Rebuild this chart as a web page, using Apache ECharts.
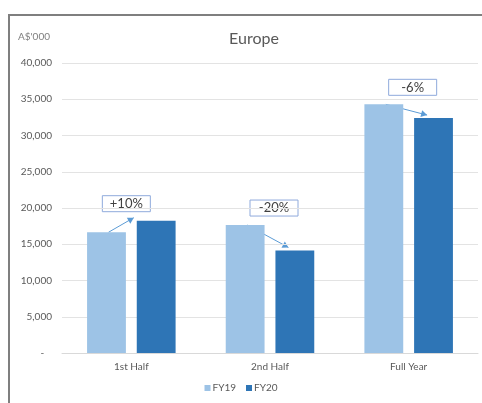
<!DOCTYPE html>
<html>
<head>
<meta charset="utf-8">
<script src="https://cdn.jsdelivr.net/npm/echarts@6/dist/echarts.min.js"></script>
<style>
  html, body { margin: 0; padding: 0; background: #fff; }
  #chart { width: 482px; height: 403px; }
</style>
</head>
<body>
<div id="chart"></div>
<script>
const categories = ['1st Half', '2nd Half', 'Full Year']
const fy19 = [16650, 17650, 34300]
const fy20 = [18250, 14150, 32400]
const changes = ['+10%', '-20%', '-6%']
const yTicks = [0, 5000, 10000, 15000, 20000, 25000, 30000, 35000, 40000]

const FONT = 'Lato, "Liberation Sans", sans-serif'
const chart = echarts.init(document.getElementById('chart'))

const option = {
  animation: false,
  textStyle: { fontFamily: FONT },
  color: ['#9dc3e6', '#2e75b6'],
  title: {
    text: 'Europe',
    left: 249,
    top: 26,
    textAlign: 'center',
    textStyle: { fontSize: 16, fontWeight: 'normal', color: '#595959', fontFamily: FONT }
  },
  legend: {
    bottom: 5,
    left: 'center',
    itemWidth: 6,
    itemHeight: 6,
    itemGap: 10,
    icon: 'rect',
    textStyle: { fontSize: 10, color: '#595959', padding: [0, 0, 0, -3] },
    data: ['FY19', 'FY20']
  },
  grid: { left: 62, right: 4, top: 63, bottom: 50 },
  xAxis: {
    type: 'category',
    data: categories,
    axisLine: { lineStyle: { color: '#d9d9d9' } },
    axisTick: { show: false },
    axisLabel: { fontSize: 10, color: '#595959', margin: 9 }
  },
  yAxis: {
    type: 'value',
    min: yTicks[0],
    max: yTicks[yTicks.length - 1],
    interval: 5000,
    axisLine: { show: false },
    axisTick: { show: false },
    splitLine: { lineStyle: { color: '#e3e3e3' } },
    axisLabel: {
      fontSize: 10,
      color: '#595959',
      margin: 10,
      formatter: (v) => v === 0 ? '-   ' : v.toLocaleString('en-US')
    }
  },
  graphic: [
    {
      type: 'rect',
      shape: { x: 9, y: 15, width: 520, height: 420 },
      style: { fill: 'none', stroke: '#7f7f7f', lineWidth: 2 },
      silent: true
    },
    {
      type: 'text',
      left: 18,
      top: 32,
      style: { text: "A$'000", fontSize: 10, fill: '#7f7f7f', fontFamily: FONT }
    }
  ],
  series: [
    { name: 'FY19', type: 'bar', data: fy19, barWidth: '28%', barGap: '28%' },
    { name: 'FY20', type: 'bar', data: fy20, barWidth: '28%', barGap: '28%' }
  ]
}

chart.setOption(option)

// annotation boxes and arrows, placed from the bar layouts
const d19 = chart.getModel().getSeriesByIndex(0).getData()
const d20 = chart.getModel().getSeriesByIndex(1).getData()
const extra = []
categories.forEach((c, i) => {
  const a = d19.getItemLayout(i)
  const b = d20.getItemLayout(i)
  const yA = Math.min(a.y, a.y + a.height)
  const yB = Math.min(b.y, b.y + b.height)
  const rising = fy20[i] > fy19[i]
  const x1 = a.x + a.width / 2 + 2
  const y1 = yA
  const x2 = rising ? b.x - 3 : b.x + 13
  const y2 = yB - 3
  extra.push({
    type: 'line',
    shape: { x1: x1, y1: y1, x2: x2, y2: y2 },
    style: { stroke: '#5b9bd5', lineWidth: 1 },
    silent: true
  })
  const ang = Math.atan2(y2 - y1, x2 - x1)
  const L = 6, W = 3.5
  const bx = x2 - L * Math.cos(ang), by = y2 - L * Math.sin(ang)
  extra.push({
    type: 'polygon',
    shape: { points: [
      [x2, y2],
      [bx + W * Math.sin(ang), by - W * Math.cos(ang)],
      [bx - W * Math.sin(ang), by + W * Math.cos(ang)]
    ] },
    style: { fill: '#5b9bd5' },
    silent: true
  })
  const cx = (a.x + a.width + b.x) / 2 + (rising ? -5 : 4)
  const cy = Math.min(yA, yB) - 17
  extra.push({
    type: 'rect',
    shape: { x: cx - 24, y: cy - 8, width: 48, height: 16 },
    style: { fill: '#fff', stroke: '#8faadc', lineWidth: 1 },
    silent: true
  })
  extra.push({
    type: 'text',
    x: cx,
    y: cy,
    style: { text: changes[i], fontSize: 13, fill: '#404040', align: 'center', verticalAlign: 'middle', fontFamily: FONT },
    silent: true
  })
})

chart.setOption({ graphic: option.graphic.concat(extra) })
</script>
</body>
</html>
